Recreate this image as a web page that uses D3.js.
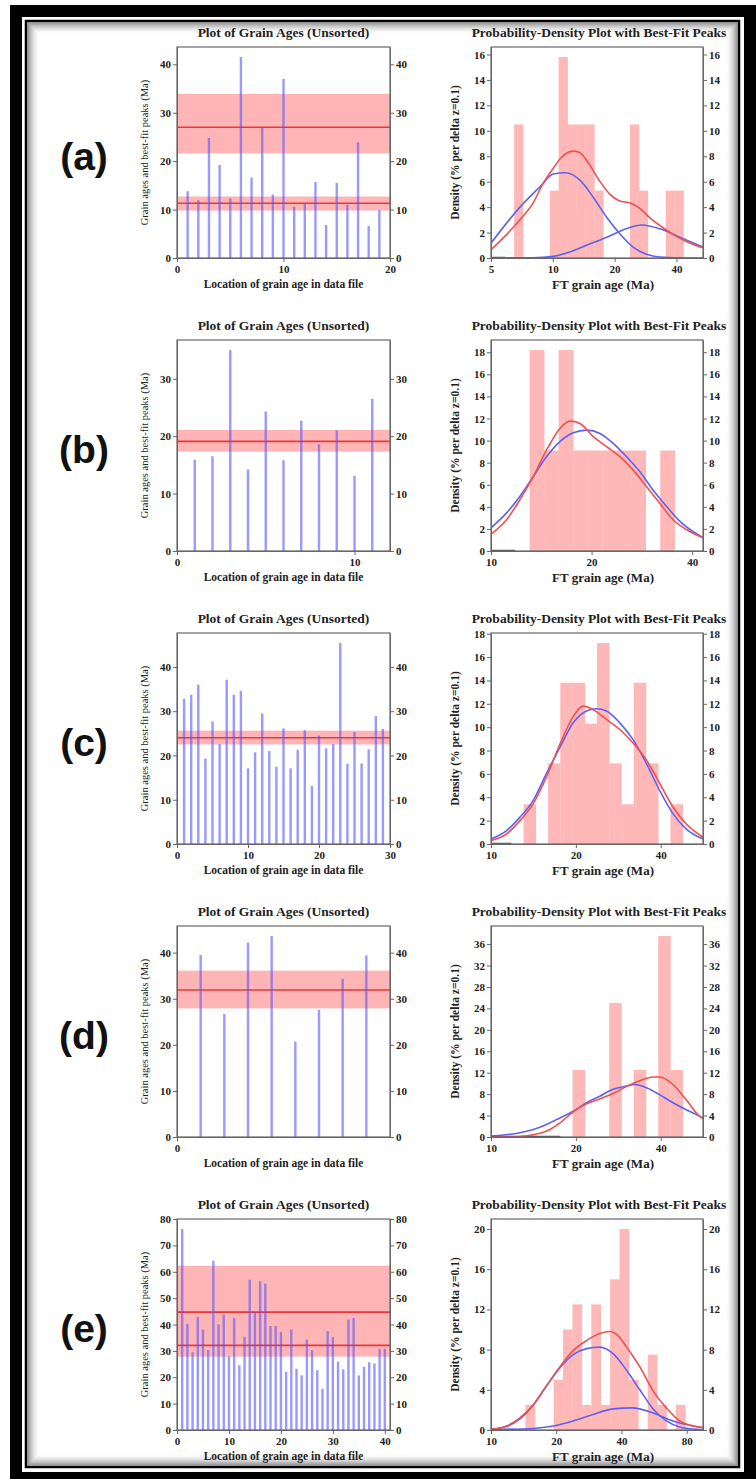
<!DOCTYPE html>
<html>
<head>
<meta charset="utf-8">
<script src="https://cdn.jsdelivr.net/npm/d3@7"></script>
<style>
  body { margin: 0; background: #fff; }
  text { font-family: "Liberation Serif", "DejaVu Serif", serif; fill: #222; }
</style>
</head>
<body>
<svg id="fig" width="756" height="1479"></svg>
<script>
// ---- data ----
var rowLabels = ["(a)", "(b)", "(c)", "(d)", "(e)"];

// grain ages (Ma) in data-file order
var agesA = [13.8, 11.9, 24.8, 19.2, 12.3, 41.5, 16.6, 26.9, 13.1, 37.0, 10.6, 11.2, 15.7, 6.8, 15.5, 11.0, 23.9, 6.6, 9.9];
var agesB = [15.9, 16.5, 35.0, 14.2, 24.3, 15.8, 22.7, 18.6, 21.0, 13.1, 26.5];
var agesC = [32.8, 33.7, 36.0, 19.3, 27.7, 22.6, 37.1, 33.7, 34.6, 17.1, 20.7, 29.5, 21.0, 17.5, 26.1, 17.1, 21.3, 25.7, 13.1, 24.5, 21.6, 22.6, 45.4, 18.1, 25.3, 18.2, 21.4, 28.9, 26.0];
var agesD = [39.5, 26.7, 42.2, 43.6, 20.7, 27.6, 34.3, 39.4];
var agesE = [76.2, 40.3, 29.5, 42.9, 38.1, 30.3, 64.2, 40.1, 43.8, 28.0, 42.5, 24.5, 35.3, 57.0, 44.7, 56.4, 55.5, 39.4, 39.4, 37.2,
             22.0, 38.1, 23.2, 20.7, 34.3, 30.3, 22.7, 15.6, 37.5, 35.2, 25.9, 23.0, 41.9, 42.5, 20.7, 24.0, 25.7, 25.2, 30.8, 30.8];

// best-fit peaks: [age, lower, upper] (Ma)
var peaksA = [[27.0, 21.6, 33.9], [11.3, 9.8, 12.7]];
var peaksB = [[19.1, 17.3, 21.1]];
var peaksC = [[24.0, 22.5, 25.6]];
var peaksD = [[31.9, 27.9, 36.1]];
var peaksE = [[44.7, 32.1, 62.3], [32.1, 27.8, 37.1]];

// histogram bins (width 0.1 in ln age): [lower edge (Ma), % per delta z=0.1]
var histA = [[6.48, 10.5], [9.67, 5.3], [10.68, 15.8], [11.81, 10.5], [13.05, 10.5], [14.42, 10.5], [15.94, 5.3], [23.77, 10.5], [26.27, 5.3], [35.47, 5.3], [39.20, 5.3]];
var histB = [[13.05, 18.2], [14.42, 9.1], [15.94, 18.2], [17.61, 9.1], [19.47, 9.1], [21.51, 9.1], [23.77, 9.1], [26.27, 9.1], [32.09, 9.1]];
var histC = [[13.05, 3.4], [15.94, 6.9], [17.61, 13.8], [19.47, 13.8], [21.51, 10.3], [23.77, 17.2], [26.27, 6.9], [29.04, 3.4], [32.09, 13.8], [35.47, 6.9], [43.32, 3.4]];
var histD = [[19.47, 12.5], [26.27, 25.0], [32.09, 12.5], [39.20, 37.5], [43.32, 12.5]];
var histE = [[14.42, 2.5], [19.47, 5.0], [21.51, 10.0], [23.77, 12.5], [26.27, 2.5], [29.04, 12.5], [32.09, 2.5], [35.47, 15.0], [39.20, 20.0], [43.32, 5.0], [52.91, 7.5], [58.47, 2.5], [71.42, 2.5]];

// probability density (red) and best-fit peak components (blue): [age (Ma), density]
var redA = [[5, 0.65], [6, 1.9], [7, 3.1], [8, 4.3], [9, 5.9], [10, 7.0], [11, 7.9], [12.5, 8.4], [13.5, 8.3], [15, 7.4], [17, 6.0], [19, 5.0], [21, 4.5], [24, 4.3], [26, 4.0], [30, 3.1], [35, 2.3], [40, 1.7], [46, 1.2], [53.9, 0.8]];
var blueA1 = [[5, 1.17], [6.92, 4.0], [8.66, 5.6], [10.05, 6.6], [11.5, 6.7], [13.6, 6.1], [15.7, 4.8], [18.3, 3.2], [21.2, 1.9], [24.6, 0.86], [28.6, 0.3], [33.2, 0.08], [44.9, 0.0], [53.9, 0.0]];
var blueA2 = [[5, 0.0], [8, 0.02], [10.05, 0.13], [12.1, 0.47], [14.6, 1.0], [18.3, 1.64], [22.8, 2.3], [27.0, 2.6], [33.2, 2.3], [41.5, 1.64], [53.9, 0.86]];

var redB = [[10, 1.5], [11.14, 2.85], [12.21, 4.65], [13.39, 6.75], [14.67, 9.15], [16.08, 11.1], [17.22, 11.76], [18.46, 11.55], [20.24, 10.35], [22.17, 9.45], [24.3, 8.55], [26.62, 7.35], [29.17, 5.85], [31.97, 4.35], [35.0, 2.85], [38.4, 1.95], [43.1, 1.2]];
var blueB = [[10, 2.1], [11.14, 3.45], [12.21, 4.95], [13.39, 6.75], [14.67, 8.55], [16.08, 9.9], [17.63, 10.7], [19.33, 10.95], [21.18, 10.65], [23.21, 9.75], [25.43, 8.55], [27.87, 7.2], [30.5, 5.55], [33.5, 4.05], [36.7, 2.7], [43.1, 1.2]];

var redC = [[10, 0.29], [11.36, 0.86], [12.67, 2.0], [14.12, 3.45], [15.74, 5.76], [17.63, 8.64], [19.57, 10.9], [21.23, 11.8], [23.02, 11.5], [25.69, 10.66], [28.63, 9.8], [31.91, 8.64], [35.56, 7.2], [39.63, 5.2], [44.2, 3.17], [49.2, 1.73], [56.5, 0.58]];
var blueC = [[10, 0.43], [11.36, 1.15], [12.67, 2.3], [14.12, 3.74], [15.74, 6.05], [17.63, 8.35], [19.57, 10.37], [21.81, 11.38], [23.65, 11.58], [25.69, 11.38], [28.63, 10.37], [31.91, 8.93], [35.56, 6.9], [39.63, 4.6], [44.2, 2.6], [49.2, 1.3], [56.5, 0.43]];

var redD = [[10, 0.0], [12.67, 0.1], [14.12, 0.4], [15.74, 1.1], [17.63, 2.7], [19.57, 4.7], [21.81, 6.2], [24.3, 7.1], [27.1, 8.1], [30.2, 9.4], [33.7, 10.5], [37.56, 11.2], [39.63, 11.2], [44.2, 9.8], [49.2, 7.0], [54.9, 3.9], [56.5, 3.5]];
var blueD = [[10, 0.2], [12.67, 0.8], [14.12, 1.4], [15.74, 2.35], [17.63, 3.6], [19.57, 4.8], [21.81, 6.4], [24.3, 7.6], [27.1, 8.9], [30.2, 9.5], [32.4, 9.8], [35.56, 9.2], [39.63, 7.9], [44.2, 6.4], [49.2, 5.1], [54.9, 3.9], [56.5, 3.5]];

var redE = [[10, 0.07], [11.81, 0.4], [13.6, 1.2], [15.67, 2.5], [18.05, 4.4], [20.81, 6.3], [23.95, 7.9], [27.6, 8.9], [31.8, 9.6], [35.35, 9.8], [39.3, 9.2], [42.1, 8.3], [48.6, 6.3], [56.0, 3.9], [64.5, 2.2], [74.2, 0.9], [85.8, 0.4], [95.2, 0.25]];
var blueE1 = [[10, 0.07], [11.81, 0.35], [13.6, 1.1], [15.67, 2.5], [18.05, 4.4], [20.81, 6.2], [23.95, 7.5], [27.6, 8.1], [31.8, 8.25], [36.6, 7.6], [42.1, 6.0], [48.6, 4.0], [56.0, 2.1], [64.5, 0.9], [74.2, 0.3], [85.8, 0.1], [95.2, 0.03]];
var blueE2 = [[10, 0.03], [15.67, 0.15], [19.37, 0.4], [23.95, 0.9], [29.6, 1.55], [36.6, 2.1], [44.7, 2.2], [56.0, 1.7], [69.1, 0.9], [85.8, 0.4], [95.2, 0.23]];

// axis settings for the density plots
var pdXDomain = [[5, 53.9], [10, 43.1], [10, 56.5], [10, 56.5], [10, 95.2]];
var pdXTicks = [[5, 10, 20, 40], [10, 20, 40], [10, 20, 40], [10, 20, 40], [10, 20, 40, 80]];
var pdYStep = [2, 2, 2, 4, 4];

var rows = [
  { ages: agesA, peaks: peaksA, hist: histA, red: redA, blues: [blueA1, blueA2] },
  { ages: agesB, peaks: peaksB, hist: histB, red: redB, blues: [blueB] },
  { ages: agesC, peaks: peaksC, hist: histC, red: redC, blues: [blueC] },
  { ages: agesD, peaks: peaksD, hist: histD, red: redD, blues: [blueD] },
  { ages: agesE, peaks: peaksE, hist: histE, red: redE, blues: [blueE1, blueE2] }
];

var svg = d3.select("#fig");
var LX0 = 177, LX1 = 390, RX0 = 491, RX1 = 703;
var plotH = 211;
var boxColor = "#666";

DibujarMarco();

rows.forEach(function (r, i) {
  var top = 47 + 293 * i;
  var g = svg.append("g");
  GraficoEdades(g, r, top, i);
  GraficoDensidad(g, r, top, i);
  g.append("text")
    .attr("x", 84).attr("y", top + plotH / 2 + 17)
    .attr("text-anchor", "middle")
    .style("font-family", "'Liberation Sans', Arial, sans-serif")
    .style("font-weight", "bold").style("font-size", "39px").style("fill", "#111")
    .text(rowLabels[i]);
});

function DibujarMarco() {
  svg.append("rect").attr("x", 10).attr("y", 5).attr("width", 746).attr("height", 1474).attr("fill", "#000");
  svg.append("rect").attr("x", 22).attr("y", 17).attr("width", 722).attr("height", 1455).attr("fill", "#fff");
  svg.append("rect").attr("x", 26).attr("y", 21).attr("width", 713).attr("height", 1446)
    .attr("fill", "none").attr("stroke", "#000").attr("stroke-width", 2.5);
  // soft inner shadow
  for (var k = 0; k < 12; k++) {
    svg.append("rect")
      .attr("x", 28 + k).attr("y", 23 + k)
      .attr("width", 709 - 2 * k).attr("height", 1442 - 2 * k)
      .attr("fill", "none").attr("stroke", "#000")
      .attr("stroke-opacity", 0.45 * Math.pow(1 - k / 12, 2));
  }
}

function estiloEje(ax) {
  ax.selectAll("path").attr("stroke", boxColor);
  ax.selectAll("line").attr("stroke", boxColor);
  ax.selectAll("text").style("font-size", "11px").style("font-weight", "bold")
    .style("font-family", "'Liberation Serif', serif").attr("fill", "#333");
}

function GraficoEdades(g, r, top, i) {
  var n = r.ages.length;
  var x = d3.scaleLinear().domain([0, n + 1]).range([LX0, LX1]);
  var yMax = d3.max(r.ages) * 1.05;
  var y = d3.scaleLinear().domain([0, yMax]).range([top + plotH, top]);

  g.selectAll(null).data(r.peaks).enter().append("rect")
    .attr("x", LX0).attr("width", LX1 - LX0)
    .attr("y", function (d) { return y(d[2]); })
    .attr("height", function (d) { return y(d[1]) - y(d[2]); })
    .attr("fill", "#ffb5b5");

  g.selectAll(null).data(r.peaks).enter().append("line")
    .attr("x1", LX0).attr("x2", LX1)
    .attr("y1", function (d) { return y(d[0]); })
    .attr("y2", function (d) { return y(d[0]); })
    .attr("stroke", "#e8383c").attr("stroke-width", 1.6);

  g.selectAll(null).data(r.ages).enter().append("line")
    .attr("x1", function (d, k) { return x(k + 1); })
    .attr("x2", function (d, k) { return x(k + 1); })
    .attr("y1", y(0))
    .attr("y2", function (d) { return y(d); })
    .attr("stroke", "#5555ff").attr("stroke-opacity", 0.6).attr("stroke-width", 2.4);

  var yt = d3.range(0, yMax, 10);
  var xt = d3.range(0, n + 1.001, 10);
  estiloEje(g.append("g").attr("transform", "translate(" + LX0 + ",0)")
    .call(d3.axisLeft(y).tickValues(yt).tickSize(4).tickSizeOuter(0).tickPadding(2)));
  estiloEje(g.append("g").attr("transform", "translate(" + LX1 + ",0)")
    .call(d3.axisRight(y).tickValues(yt).tickSize(4).tickSizeOuter(0).tickPadding(2)));
  estiloEje(g.append("g").attr("transform", "translate(0," + (top + plotH) + ")")
    .call(d3.axisBottom(x).tickValues(xt).tickSize(4).tickSizeOuter(0).tickPadding(3)));

  g.append("rect").attr("x", LX0).attr("y", top).attr("width", LX1 - LX0).attr("height", plotH)
    .attr("fill", "none").attr("stroke", boxColor).attr("stroke-width", 1.2);

  g.append("text").attr("x", (LX0 + LX1) / 2).attr("y", top - 10).attr("text-anchor", "middle")
    .style("font-size", "13.5px").style("font-weight", "bold").text("Plot of Grain Ages (Unsorted)");
  g.append("text").attr("x", (LX0 + LX1) / 2).attr("y", top + plotH + 30).attr("text-anchor", "middle")
    .style("font-size", "11.5px").style("font-weight", "bold").text("Location of grain age in data file");
  g.append("text").attr("transform", "translate(148," + (top + plotH / 2) + ") rotate(-90)")
    .attr("text-anchor", "middle")
    .style("font-size", "10.5px").text("Grain ages and best-fit peaks (Ma)");
}

function GraficoDensidad(g, r, top, i) {
  var x = d3.scaleLog().domain(pdXDomain[i]).range([RX0, RX1]);
  var yMax = d3.max(r.hist, function (d) { return d[1]; }) * 1.05;
  var y = d3.scaleLinear().domain([0, yMax]).range([top + plotH, top]);
  var w = Math.exp(0.1);

  var clipId = "clip" + i;
  g.append("clipPath").attr("id", clipId).append("rect")
    .attr("x", RX0).attr("y", top).attr("width", RX1 - RX0).attr("height", plotH);
  var area = g.append("g").attr("clip-path", "url(#" + clipId + ")");

  area.selectAll(null).data(r.hist).enter().append("rect")
    .attr("x", function (d) { return x(d[0]); })
    .attr("width", function (d) { return x(d[0] * w) - x(d[0]) + 0.3; })
    .attr("y", function (d) { return y(d[1]); })
    .attr("height", function (d) { return y(0) - y(d[1]); })
    .attr("fill", "#ffb8b8");

  // empty bins below the first count show as a dark stub on the baseline
  area.append("line")
    .attr("x1", RX0).attr("x2", x(r.hist[0][0] / w))
    .attr("y1", y(0) - 0.5).attr("y2", y(0) - 0.5)
    .attr("stroke", "#555").attr("stroke-width", 1.5);

  var linea = d3.line()
    .x(function (d) { return x(d[0]); })
    .y(function (d) { return y(d[1]); })
    .curve(d3.curveMonotoneX);

  r.blues.forEach(function (b) {
    area.append("path").attr("d", linea(b)).attr("fill", "none")
      .attr("stroke", "#6060f0").attr("stroke-width", 1.6);
  });
  area.append("path").attr("d", linea(r.red)).attr("fill", "none")
    .attr("stroke", "#ee5050").attr("stroke-width", 1.6);

  var yt = d3.range(0, yMax, pdYStep[i]);
  estiloEje(g.append("g").attr("transform", "translate(" + RX0 + ",0)")
    .call(d3.axisLeft(y).tickValues(yt).tickSize(4).tickSizeOuter(0).tickPadding(2)));
  estiloEje(g.append("g").attr("transform", "translate(" + RX1 + ",0)")
    .call(d3.axisRight(y).tickValues(yt).tickSize(4).tickSizeOuter(0).tickPadding(2)));
  estiloEje(g.append("g").attr("transform", "translate(0," + (top + plotH) + ")")
    .call(d3.axisBottom(x).tickValues(pdXTicks[i]).tickFormat(d3.format("d")).tickSize(4).tickSizeOuter(0).tickPadding(3)));

  g.append("rect").attr("x", RX0).attr("y", top).attr("width", RX1 - RX0).attr("height", plotH)
    .attr("fill", "none").attr("stroke", boxColor).attr("stroke-width", 1.2);

  g.append("text").attr("x", (RX0 + RX1) / 2 + 2).attr("y", top - 10).attr("text-anchor", "middle")
    .style("font-size", "13.5px").style("font-weight", "bold").text("Probability-Density Plot with Best-Fit Peaks");
  g.append("text").attr("x", (RX0 + RX1) / 2 + 6).attr("y", top + plotH + 31).attr("text-anchor", "middle")
    .style("font-size", "13px").style("font-weight", "bold").text("FT grain age (Ma)");
  g.append("text").attr("transform", "translate(459," + (top + plotH / 2) + ") rotate(-90)")
    .attr("text-anchor", "middle")
    .style("font-size", "11.5px").style("font-weight", "bold").text("Density (% per delta z=0.1)");
}
</script>
</body>
</html>
